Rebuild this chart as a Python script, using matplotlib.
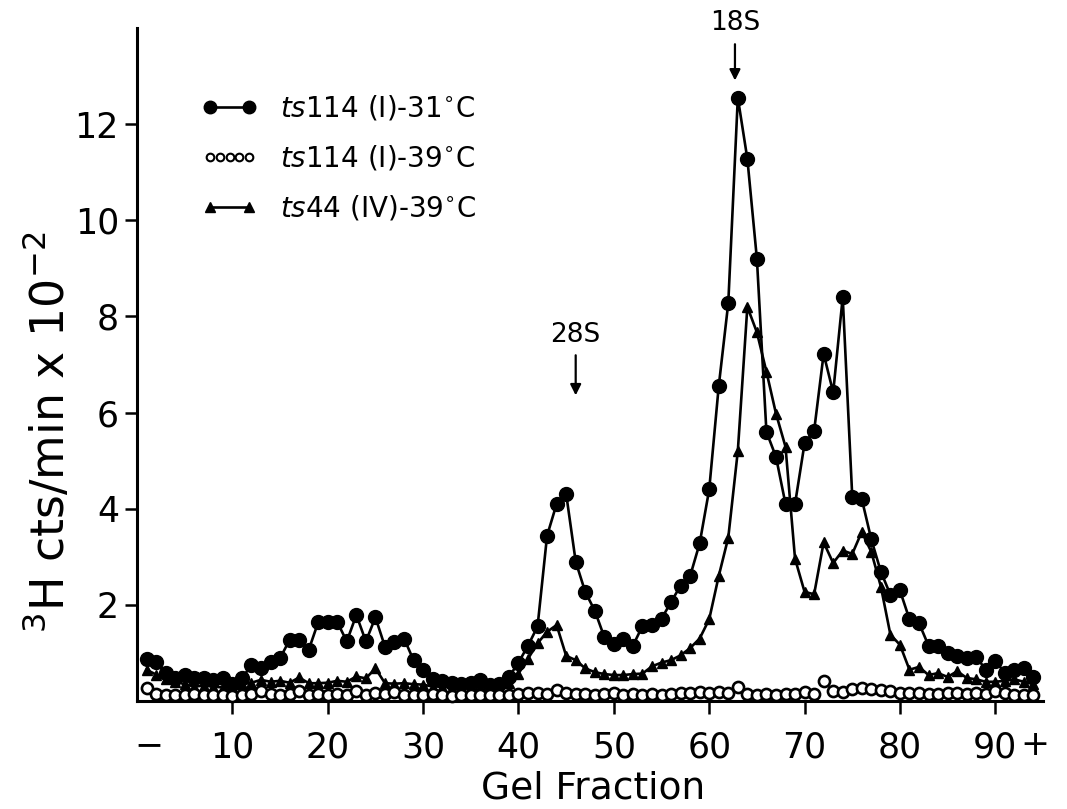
import matplotlib

matplotlib.use("Agg")
import matplotlib.pyplot as plt
from matplotlib.lines import Line2D
from matplotlib.legend_handler import HandlerLine2D
from matplotlib.transforms import blended_transform_factory

# gel fraction numbers, one point per fraction
fractions = list(range(1, 95))

# ts114 (I) at 31 C, filled circles (cts/min x 10^-2)
ts114_31 = [
    0.87, 0.82, 0.58, 0.47, 0.54, 0.47, 0.47, 0.44, 0.47, 0.35,
    0.47, 0.75, 0.68, 0.82, 0.89, 1.27, 1.27, 1.06, 1.64, 1.64,
    1.64, 1.24, 1.79, 1.24, 1.74, 1.13, 1.22, 1.30, 0.85, 0.65,
    0.45, 0.42, 0.38, 0.36, 0.37, 0.44, 0.33, 0.35, 0.50, 0.80,
    1.15, 1.55, 3.44, 4.10, 4.31, 2.90, 2.27, 1.88, 1.33, 1.19,
    1.29, 1.15, 1.56, 1.58, 1.71, 2.06, 2.40, 2.60, 3.28, 4.40,
    6.55, 8.28, 12.55, 11.28, 9.20, 5.60, 5.08, 4.10, 4.10, 5.36,
    5.62, 7.22, 6.42, 8.40, 4.25, 4.20, 3.36, 2.69, 2.21, 2.30,
    1.70, 1.62, 1.15, 1.15, 1.00, 0.94, 0.90, 0.92, 0.65, 0.84,
    0.58, 0.65, 0.69, 0.50,
]

# ts114 (I) at 39 C, open circles
ts114_39 = [
    0.28, 0.15, 0.12, 0.13, 0.12, 0.14, 0.12, 0.13, 0.12, 0.11,
    0.13, 0.15, 0.20, 0.15, 0.13, 0.15, 0.20, 0.12, 0.14, 0.13,
    0.15, 0.12, 0.20, 0.13, 0.17, 0.14, 0.18, 0.12, 0.13, 0.12,
    0.14, 0.12, 0.11, 0.13, 0.12, 0.12, 0.13, 0.12, 0.13, 0.14,
    0.17, 0.17, 0.15, 0.23, 0.16, 0.14, 0.15, 0.12, 0.14, 0.16,
    0.13, 0.14, 0.13, 0.14, 0.13, 0.14, 0.17, 0.16, 0.18, 0.17,
    0.19, 0.16, 0.30, 0.15, 0.12, 0.15, 0.13, 0.14, 0.15, 0.18,
    0.14, 0.42, 0.20, 0.18, 0.25, 0.26, 0.24, 0.22, 0.20, 0.17,
    0.16, 0.16, 0.15, 0.15, 0.16, 0.16, 0.15, 0.16, 0.15, 0.20,
    0.16, 0.13, 0.13, 0.12,
]

# ts44 (IV) at 39 C, filled triangles
ts44_39 = [
    0.65, 0.55, 0.45, 0.40, 0.35, 0.30, 0.32, 0.30, 0.28, 0.30,
    0.35, 0.38, 0.44, 0.40, 0.42, 0.38, 0.49, 0.37, 0.37, 0.38,
    0.42, 0.40, 0.51, 0.47, 0.68, 0.37, 0.36, 0.37, 0.35, 0.34,
    0.30, 0.30, 0.28, 0.30, 0.30, 0.32, 0.28, 0.30, 0.38, 0.57,
    0.88, 1.20, 1.44, 1.58, 0.94, 0.85, 0.68, 0.60, 0.56, 0.54,
    0.54, 0.56, 0.57, 0.72, 0.80, 0.85, 0.95, 1.10, 1.30, 1.70,
    2.60, 3.40, 5.20, 8.20, 7.67, 6.85, 5.98, 5.29, 2.96, 2.27,
    2.22, 3.30, 2.87, 3.13, 3.06, 3.52, 3.10, 2.38, 1.38, 1.17,
    0.65, 0.71, 0.54, 0.58, 0.50, 0.62, 0.48, 0.45, 0.40, 0.40,
    0.42, 0.45, 0.40, 0.35,
]

x_ticks = [10, 20, 30, 40, 50, 60, 70, 80, 90]
y_ticks = [2, 4, 6, 8, 10, 12]
markers_28s = (46.0, 6.3)
markers_18s = (62.7, 12.85)

plt.rcParams["font.family"] = ["DejaVu Sans"]

fig = plt.figure(figsize=(10.67, 8.09), dpi=100)
ax = fig.add_axes([0.1284, 0.1335, 0.8491, 0.8319])

lw = 1.9
ax.plot(fractions, ts44_39, color="black", lw=lw, marker="^", ms=7.5,
        mec="black", mfc="black", zorder=3)
ax.plot(fractions, ts114_31, color="black", lw=lw, marker="o", ms=10,
        mec="black", mfc="black", zorder=4)
ax.plot(fractions, ts114_39, ls="none", marker="o", ms=8, mec="black",
        mfc="white", mew=1.9, zorder=5, clip_on=False)

ax.set_xlim(0, 95)
ax.set_ylim(0, 14)

for side in ("top", "right"):
    ax.spines[side].set_visible(False)
for side in ("left", "bottom"):
    ax.spines[side].set_linewidth(2.2)

ax.set_xticks(x_ticks)
ax.set_xticklabels([str(t) for t in x_ticks])
ax.set_yticks(y_ticks)
ax.set_yticklabels([str(t) for t in y_ticks])
ax.tick_params(axis="both", labelsize=25, width=1.8, length=9, direction="out")
ax.tick_params(axis="x", pad=12)
ax.tick_params(axis="y", pad=4)

# the "-" before 10 and the "+" after 90
tr = blended_transform_factory(ax.transData, ax.transAxes)
ax.text(1.3, -0.066, "\u2212", transform=tr, ha="center", va="center",
        fontsize=25, clip_on=False)
ax.text(94.2, -0.066, "+", transform=tr, ha="center", va="center",
        fontsize=25, clip_on=False)

ax.set_xlabel("Gel Fraction", fontsize=27)
ax.xaxis.set_label_coords(0.503, -0.104)
ax.set_ylabel(r"$^3$H cts/min x 10$^{-2}$", fontsize=33)
ax.yaxis.set_label_coords(-0.07, 0.40)

# marker arrows
ax.annotate("", xy=markers_28s, xytext=(markers_28s[0], 7.25),
            arrowprops=dict(arrowstyle="-|>", color="black", lw=1.6,
                            mutation_scale=16))
ax.text(markers_28s[0], 7.62, "28S", ha="center", va="center", fontsize=19)
ax.annotate("", xy=markers_18s, xytext=(markers_18s[0], 13.72),
            arrowprops=dict(arrowstyle="-|>", color="black", lw=1.6,
                            mutation_scale=16), annotation_clip=False)
ax.text(markers_18s[0], 14.1, "18S", ha="center", va="center", fontsize=19,
        clip_on=False)

# legend
h_filled = Line2D([], [], color="black", lw=lw, marker="o", ms=9, mfc="black")
h_open = Line2D([], [], ls="none", marker="o", ms=5.5, mfc="white",
                mec="black", mew=1.5)
h_tri = Line2D([], [], color="black", lw=lw, marker="^", ms=7, mfc="black")
labels = [
    r"$\it{ts}$114 (I)-31$^{\circ}$C",
    r"$\it{ts}$114 (I)-39$^{\circ}$C",
    r"$\it{ts}$44 (IV)-39$^{\circ}$C",
]
ax.legend([h_filled, h_open, h_tri], labels, loc="upper left",
          bbox_to_anchor=(0.0717, 0.902), frameon=False, fontsize=20,
          handlelength=2.0, handletextpad=0.8, labelspacing=0.75,
          borderpad=0, borderaxespad=0, numpoints=2,
          handler_map={h_open: HandlerLine2D(numpoints=5)})

fig.savefig("out.png", dpi=100)
